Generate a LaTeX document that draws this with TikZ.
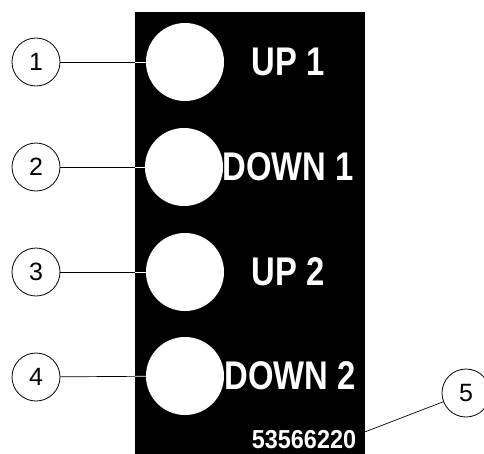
\documentclass[tikz,border=0pt]{standalone}
\usepackage{fontspec}
\setmainfont{Liberation Sans}
\usepackage{tikz}
\usetikzlibrary{positioning}
\newcommand{\narrowtxt}[2][0.82]{\scalebox{#1}[1]{#2}}

\begin{document}
\begin{tikzpicture}
[x=1pt,y=-1pt,
callout/.style = {draw, circle, line width=0.8pt, minimum size=48pt, inner sep=0pt, font=\fontsize{25}{25}\selectfont},
button/.style = {circle, fill=white, minimum size=78pt, inner sep=0pt},
lbl/.style = {text=white, inner sep=0pt, font=\fontsize{40}{40}\selectfont\bfseries},
lead/.style = {line width=0.7pt},]
\useasboundingbox (0,0) rectangle (484,453);
\clip (0,0) rectangle (484,453);
\fill (135,12) rectangle (365,460);
\coordinate (panelNW) at (135,12);
\coordinate (panelSE) at (365,460);

\node (B1) at (185,62)[button] {};
\node (B2) at (184,167)[button] {};
\node (B3) at (185,272)[button] {};
\node (B4) at (185,376)[button] {};

\node (L1) at (288,62)[lbl] {\narrowtxt{UP 1}};
\node (L2) at (288,167)[lbl] {\narrowtxt{DOWN 1}};
\node (L3) at (288,272)[lbl] {\narrowtxt{UP 2}};
\node (L4) at (290,376)[lbl] {\narrowtxt{DOWN 2}};
\node (N) at (304,440)[text=white, inner sep=0pt, font=\fontsize{26}{26}\selectfont\bfseries] {\narrowtxt[0.9]{53566220}};

\node (C1) at (36,62)[callout] {1};
\node (C2) at (36,167)[callout] {2};
\node (C3) at (36,272)[callout] {3};
\node (C4) at (36,377)[callout] {4};
\node (C5) at (466,393)[callout] {5};
\coordinate (T5) at (362,433);

\draw[lead] (C1)--(B1);
\draw[lead] (C2)--(B2);
\draw[lead] (C3)--(B3);
\draw[lead] (C4)--(B4);
\draw[lead] (C5)--(T5);

% white part of the leaders on the panel
\begin{scope}
\clip (panelNW) rectangle (panelSE);
\draw[lead,white] (C1)--(B1);
\draw[lead,white] (C2)--(B2);
\draw[lead,white] (C3)--(B3);
\draw[lead,white] (C4)--(B4);
\end{scope}
\end{tikzpicture}
\end{document}
